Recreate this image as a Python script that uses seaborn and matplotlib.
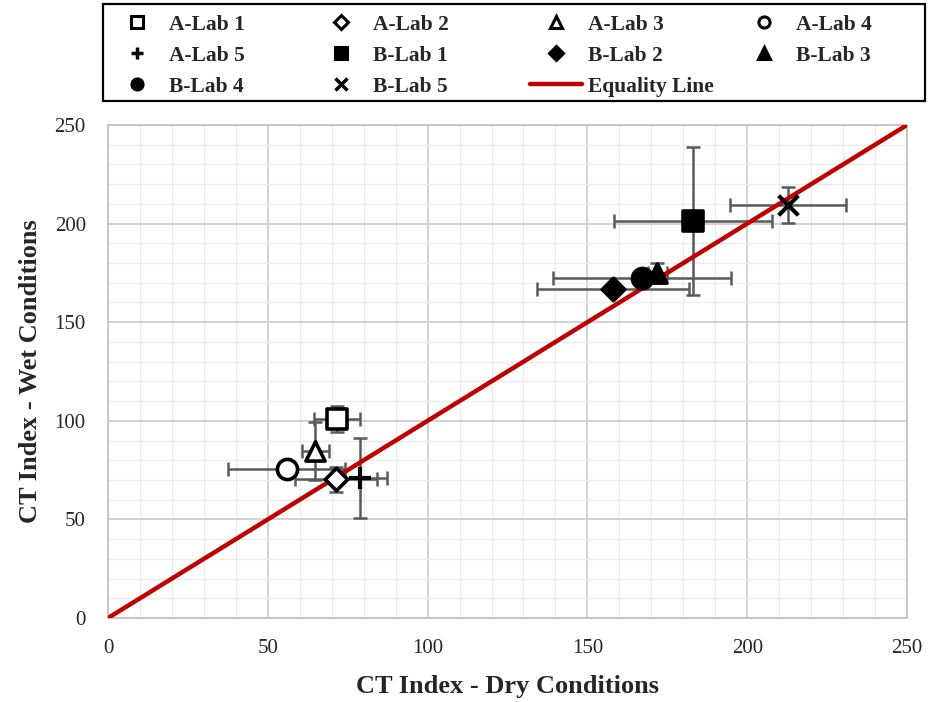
import matplotlib
matplotlib.use("Agg")
import matplotlib.pyplot as plt
from matplotlib.lines import Line2D
from matplotlib.patches import Rectangle
from matplotlib.ticker import MultipleLocator
import seaborn as sns
import pandas as pd

labs = ["A-Lab 1", "A-Lab 2", "A-Lab 3", "A-Lab 4", "A-Lab 5",
        "B-Lab 1", "B-Lab 2", "B-Lab 3", "B-Lab 4", "B-Lab 5"]
dry = [71.7, 71.3, 64.9, 55.9, 78.8, 183.1, 158.1, 171.9, 167.0, 212.7]
wet = [100.8, 70.3, 84.6, 75.4, 70.8, 201.3, 166.9, 174.8, 172.3, 209.6]
dry_err = [7.3, 12.8, 4.2, 18.4, 8.5, 24.8, 23.8, 3.0, 27.9, 18.1]
wet_err = [6.5, 6.3, 14.8, 3.3, 20.3, 37.6, 2.0, 5.0, 3.0, 9.1]
markers = ["s", "D", "^", "o", "P", "s", "D", "^", "o", "X"]
filled = [False, False, False, False, True, True, True, True, True, True]
eq_x = [0, 250]
eq_y = [0, 250]

df = pd.DataFrame({"lab": labs, "dry": dry, "wet": wet})

sns.set_theme(style="white")
plt.rcParams["font.family"] = ["Liberation Serif", "DejaVu Serif"]

W, H = 929, 702
fig = plt.figure(figsize=(W / 100, H / 100), dpi=100)
ax = fig.add_axes([108 / W, 1 - 618 / H, (907 - 108) / W, (618 - 125) / H])

ax.set_xlim(0, 250)
ax.set_ylim(0, 250)
ax.xaxis.set_major_locator(MultipleLocator(50))
ax.yaxis.set_major_locator(MultipleLocator(50))
ax.xaxis.set_minor_locator(MultipleLocator(10))
ax.yaxis.set_minor_locator(MultipleLocator(10))
ax.grid(which="major", color="#cfcfcf", linewidth=1.3, zorder=0)
ax.grid(which="minor", color="#ececec", linewidth=1.0, zorder=0)
ax.set_axisbelow(True)
for s in ax.spines.values():
    s.set_color("#bfbfbf")
    s.set_linewidth(1.2)
ax.tick_params(which="both", length=0, labelsize=15)
ax.tick_params(axis="x", pad=15)
ax.tick_params(axis="y", pad=16)

# error bars
for i in range(len(labs)):
    ax.errorbar(dry[i], wet[i], xerr=dry_err[i], yerr=wet_err[i], fmt="none",
                ecolor="#595959", elinewidth=1.8, capsize=5, capthick=1.8, zorder=2)

sns.lineplot(x=eq_x, y=eq_y, ax=ax, color="#C00000", linewidth=3.2, zorder=3, legend=False)

sizes = {"s": 190, "D": 130, "^": 190, "o": 210, "P": 230, "X": 200}
handles = []
for i, lab in enumerate(labs):
    m = markers[i]
    sub = df[df["lab"] == lab]
    if m in ("P", "X"):
        mk = "+" if m == "P" else "x"
        sns.scatterplot(data=sub, x="dry", y="wet", ax=ax, marker=mk, s=sizes[m],
                        color="black", linewidth=3, zorder=4, legend=False)
        handles.append(Line2D([], [], marker=mk, linestyle="none", color="black",
                              markersize=9, markeredgewidth=2.5))
    else:
        fc = "black" if filled[i] else "white"
        sns.scatterplot(data=sub, x="dry", y="wet", ax=ax, marker=m, s=sizes[m],
                        facecolor=fc, edgecolor="black", linewidth=2.6, zorder=4, legend=False)
        handles.append(Line2D([], [], marker=m, linestyle="none", markerfacecolor=fc,
                              markeredgecolor="black", markersize=8 if m != "D" else 7,
                              markeredgewidth=2.2))
handles.append(Line2D([], [], color="#C00000", linewidth=3.2))
labels = labs + ["Equality Line"]

# legend: 4 equal-width columns, row-major order, framed box
col_items = [[0, 4, 8], [1, 5, 9], [2, 6, 10], [3, 7]]
col_left = [110.5, 314.5, 529.5, 737.5]
for c, items in enumerate(col_items):
    lg = fig.legend([handles[k] for k in items], [labels[k] for k in items],
                    loc="upper left", bbox_to_anchor=(col_left[c] / W, 1 - 14.5 / H),
                    frameon=False, borderpad=0, borderaxespad=0,
                    prop={"family": "Liberation Serif", "weight": "bold", "size": 15.5},
                    handlelength=2.45, handletextpad=0.27, labelspacing=0.51)
fig.add_artist(Rectangle((103 / W, 1 - 101 / H), (925 - 103) / W, 97 / H,
                         transform=fig.transFigure, fill=False, edgecolor="black",
                         linewidth=1.6))

ax.set_xlabel("CT Index - Dry Conditions", fontsize=19, fontweight="bold", labelpad=12)
ax.set_ylabel("CT Index - Wet Conditions", fontsize=19, fontweight="bold", labelpad=9)

fig.savefig("out.png", dpi=100)
